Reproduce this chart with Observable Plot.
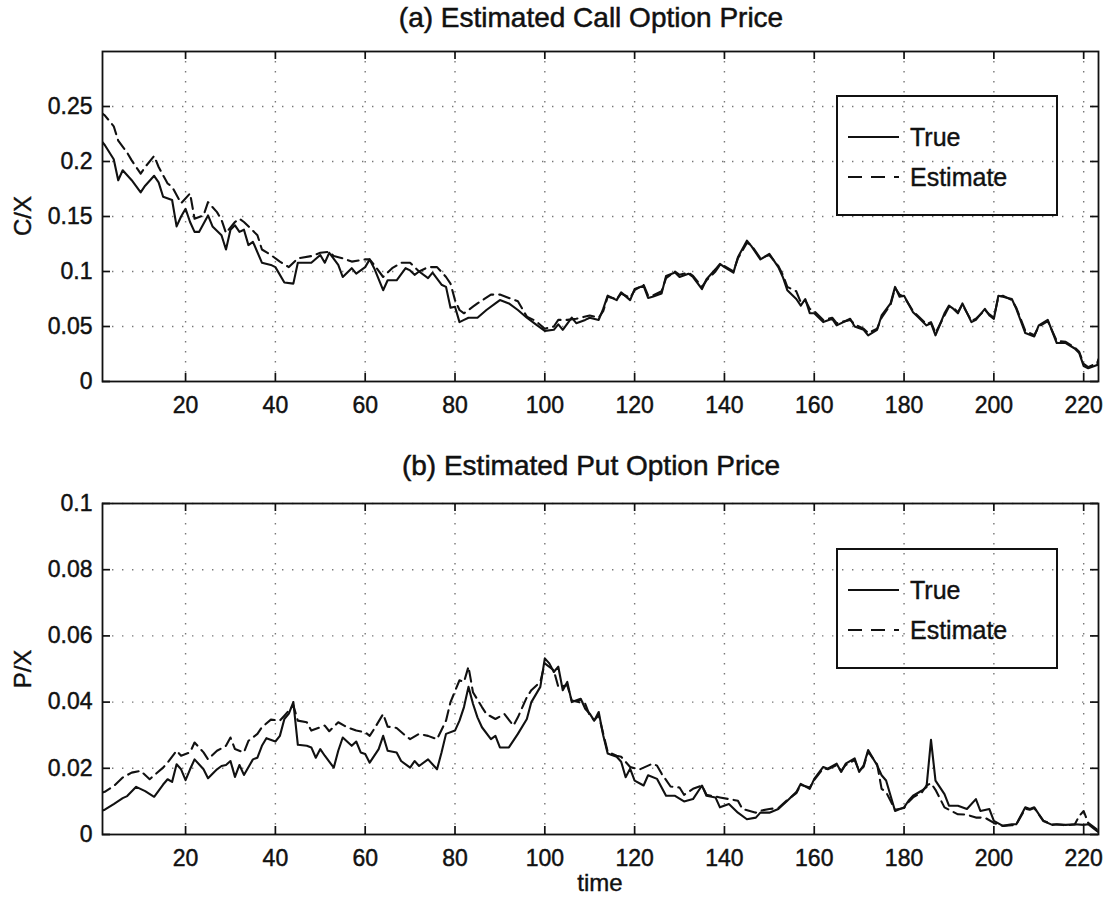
<!DOCTYPE html>
<html><head><meta charset="utf-8">
<script src="https://cdn.jsdelivr.net/npm/d3@7"></script>
<script src="https://cdn.jsdelivr.net/npm/@observablehq/plot@0.6"></script>
<style>
body{margin:0;background:#fff;font-family:"Liberation Sans",Arial,Helvetica,sans-serif;color:#111;}
#wrap{position:relative;width:1108px;height:897px;overflow:hidden;}
.title{position:absolute;left:84px;width:1014px;text-align:center;font-size:28px;line-height:30px;-webkit-text-stroke:0.5px #111;}
.ylab{position:absolute;width:80px;text-align:center;font-size:24px;line-height:26px;transform:rotate(-90deg);-webkit-text-stroke:0.4px #111;}
.xlab{position:absolute;left:102px;width:996px;text-align:center;font-size:24px;line-height:26px;-webkit-text-stroke:0.4px #111;}
.panel{position:absolute;left:0;}
.panel text{stroke:#111;stroke-width:0.45px;}
.legend{position:absolute;box-sizing:border-box;border:2px solid #111;background:transparent;}
.legend .row{position:absolute;left:8px;height:30px;}
.legend svg{position:absolute;left:0;top:0;}
.legend span{position:absolute;left:64px;top:0;font-size:25px;line-height:30px;white-space:nowrap;-webkit-text-stroke:0.4px #111;}
</style></head>
<body><div id="wrap"></div>
<script>
// ---- data ----
const xTicks = [20, 40, 60, 80, 100, 120, 140, 160, 180, 200, 220];
const callYTicks = [0, 0.05, 0.1, 0.15, 0.2, 0.25];
const putYTicks = [0, 0.02, 0.04, 0.06, 0.08, 0.1];
const seriesNames = ["True", "Estimate"];
const titles = ["(a) Estimated Call Option Price", "(b) Estimated Put Option Price"];

const callTrue = [[1,0.220],[2,0.215],[4,0.202],[5,0.183],[6,0.192],[8,0.183],[10,0.172],[11,0.178],[13,0.187],[14,0.181],[15,0.168],[17,0.165],[18,0.141],[19,0.150],[20,0.157],[21,0.145],[22,0.136],[23,0.136],[25,0.151],[26,0.141],[28,0.133],[29,0.120],[30,0.138],[31,0.142],[32,0.136],[33,0.138],[34,0.124],[35,0.127],[37,0.108],[39,0.106],[40,0.104],[42,0.090],[44,0.089],[45,0.108],[48,0.108],[50,0.115],[51,0.108],[52,0.117],[54,0.106],[55,0.095],[57,0.103],[58,0.098],[60,0.104],[61,0.111],[62,0.103],[64,0.083],[65,0.092],[67,0.092],[69,0.103],[70,0.101],[71,0.097],[72,0.100],[74,0.094],[75,0.099],[77,0.088],[78,0.086],[79,0.067],[80,0.068],[81,0.054],[82,0.056],[83,0.058],[85,0.058],[87,0.065],[89,0.071],[90,0.074],[92,0.071],[94,0.065],[96,0.058],[98,0.052],[100,0.046],[102,0.047],[103,0.052],[104,0.047],[106,0.058],[107,0.053],[109,0.056],[110,0.058],[112,0.056],[113,0.066],[114,0.078],[116,0.074],[117,0.081],[119,0.074],[120,0.084],[122,0.087],[123,0.076],[124,0.077],[126,0.080],[127,0.096],[129,0.099],[130,0.095],[132,0.098],[133,0.095],[135,0.084],[136,0.093],[138,0.102],[139,0.107],[140,0.104],[142,0.099],[143,0.113],[145,0.128],[146,0.123],[148,0.111],[150,0.116],[152,0.104],[153,0.095],[154,0.083],[156,0.075],[157,0.069],[158,0.075],[159,0.062],[160,0.062],[162,0.054],[164,0.057],[165,0.051],[168,0.057],[169,0.050],[171,0.047],[172,0.042],[174,0.047],[175,0.060],[177,0.071],[178,0.086],[179,0.077],[180,0.078],[182,0.063],[183,0.059],[185,0.051],[186,0.053],[187,0.042],[189,0.062],[190,0.069],[191,0.066],[192,0.062],[193,0.071],[195,0.054],[196,0.056],[198,0.066],[199,0.060],[200,0.057],[201,0.078],[202,0.077],[204,0.075],[205,0.066],[207,0.044],[209,0.041],[210,0.051],[212,0.056],[214,0.035],[216,0.035],[218,0.030],[219,0.026],[220,0.014],[221,0.012],[223,0.015],[224,0.029]];

const callEst = [[1,0.245],[2,0.242],[4,0.232],[5,0.219],[7,0.208],[8,0.201],[10,0.189],[11,0.195],[13,0.205],[14,0.195],[16,0.180],[17,0.177],[19,0.162],[21,0.171],[22,0.148],[24,0.151],[25,0.163],[27,0.154],[28,0.147],[29,0.135],[31,0.145],[32,0.148],[33,0.145],[36,0.133],[37,0.120],[39,0.115],[41,0.109],[43,0.104],[45,0.112],[48,0.114],[50,0.117],[52,0.118],[53,0.114],[55,0.112],[57,0.109],[60,0.111],[61,0.111],[62,0.106],[64,0.095],[66,0.103],[68,0.108],[70,0.108],[72,0.100],[74,0.104],[76,0.104],[78,0.095],[79,0.089],[80,0.074],[81,0.065],[82,0.062],[84,0.068],[85,0.071],[88,0.079],[90,0.079],[92,0.076],[94,0.073],[96,0.059],[98,0.055],[100,0.048],[102,0.050],[103,0.056],[105,0.056],[107,0.057],[110,0.060],[112,0.058],[113,0.064],[114,0.077],[116,0.075],[117,0.080],[119,0.076],[120,0.083],[122,0.088],[123,0.078],[124,0.078],[126,0.082],[127,0.094],[129,0.100],[130,0.097],[132,0.099],[133,0.096],[135,0.086],[136,0.092],[138,0.100],[139,0.106],[140,0.105],[142,0.100],[143,0.112],[145,0.126],[146,0.124],[148,0.112],[150,0.115],[152,0.105],[153,0.097],[154,0.086],[156,0.082],[157,0.072],[158,0.074],[159,0.066],[160,0.064],[162,0.056],[164,0.058],[165,0.053],[168,0.056],[169,0.052],[171,0.048],[172,0.044],[174,0.048],[175,0.058],[177,0.070],[178,0.085],[179,0.079],[180,0.077],[182,0.064],[183,0.060],[185,0.052],[186,0.054],[187,0.044],[189,0.060],[190,0.068],[191,0.067],[192,0.063],[193,0.070],[195,0.055],[196,0.057],[198,0.065],[199,0.061],[200,0.058],[201,0.077],[202,0.078],[204,0.074],[205,0.067],[207,0.046],[209,0.042],[210,0.050],[212,0.055],[214,0.037],[216,0.036],[218,0.031],[219,0.027],[220,0.016],[221,0.013],[223,0.017],[224,0.027]];

const putTrue = [[1,0.0070],[2,0.0075],[4,0.0092],[6,0.0110],[7,0.0116],[9,0.0144],[11,0.0131],[13,0.0114],[15,0.0151],[16,0.0167],[17,0.0159],[18,0.0212],[19,0.0197],[20,0.0164],[21,0.0197],[22,0.0227],[24,0.0197],[25,0.0170],[27,0.0197],[28,0.0207],[29,0.0210],[30,0.0222],[31,0.0174],[32,0.0210],[33,0.0180],[35,0.0227],[36,0.0232],[37,0.0268],[38,0.0291],[40,0.0281],[41,0.0298],[42,0.0349],[43,0.0365],[44,0.0400],[45,0.0271],[47,0.0268],[48,0.0263],[49,0.0232],[50,0.0258],[51,0.0238],[53,0.0202],[54,0.0253],[55,0.0293],[57,0.0268],[58,0.0281],[59,0.0248],[60,0.0243],[61,0.0217],[63,0.0258],[64,0.0298],[65,0.0253],[67,0.0248],[68,0.0222],[70,0.0202],[71,0.0222],[72,0.0207],[74,0.0227],[76,0.0197],[77,0.0248],[78,0.0304],[80,0.0314],[81,0.0344],[82,0.0385],[83,0.0446],[84,0.0395],[85,0.0354],[86,0.0324],[88,0.0288],[89,0.0298],[90,0.0263],[92,0.0263],[94,0.0304],[96,0.0349],[97,0.0400],[99,0.0446],[100,0.0532],[101,0.0517],[102,0.0491],[103,0.0507],[104,0.0436],[105,0.0461],[106,0.0400],[108,0.0410],[109,0.0380],[110,0.0365],[111,0.0344],[112,0.0370],[113,0.0300],[114,0.0245],[116,0.0235],[117,0.0220],[118,0.0173],[119,0.0199],[120,0.0163],[122,0.0148],[123,0.0179],[125,0.0168],[127,0.0117],[129,0.0117],[131,0.0100],[133,0.0107],[135,0.0148],[136,0.0117],[138,0.0112],[139,0.0082],[141,0.0092],[143,0.0066],[145,0.0046],[147,0.0051],[148,0.0066],[150,0.0066],[152,0.0077],[154,0.0102],[156,0.0128],[157,0.0153],[159,0.0138],[160,0.0168],[162,0.0204],[163,0.0199],[165,0.0214],[166,0.0189],[167,0.0214],[169,0.0230],[170,0.0189],[171,0.0209],[172,0.0255],[174,0.0209],[175,0.0179],[176,0.0163],[178,0.0071],[180,0.0082],[181,0.0102],[182,0.0117],[184,0.0133],[185,0.0143],[186,0.0286],[187,0.0163],[189,0.0122],[190,0.0087],[192,0.0087],[194,0.0077],[196,0.0107],[197,0.0071],[199,0.0077],[200,0.0041],[202,0.0026],[204,0.0031],[205,0.0031],[207,0.0082],[208,0.0077],[209,0.0082],[211,0.0041],[213,0.0029],[214,0.0031],[216,0.0029],[218,0.0031],[220,0.0029],[221,0.0031],[223,0.0010],[224,0.0000]];

const putEst = [[1,0.0125],[2,0.0129],[4,0.0146],[6,0.0172],[8,0.0187],[10,0.0192],[12,0.0167],[15,0.0202],[16,0.0217],[18,0.0253],[19,0.0238],[21,0.0248],[22,0.0278],[24,0.0248],[25,0.0227],[27,0.0253],[29,0.0268],[30,0.0293],[31,0.0258],[33,0.0248],[34,0.0283],[36,0.0304],[37,0.0324],[39,0.0347],[41,0.0344],[42,0.0359],[44,0.0390],[45,0.0344],[47,0.0339],[48,0.0314],[51,0.0329],[52,0.0312],[54,0.0339],[56,0.0324],[58,0.0314],[60,0.0309],[61,0.0298],[62,0.0319],[64,0.0364],[65,0.0326],[67,0.0322],[69,0.0298],[70,0.0288],[72,0.0304],[74,0.0298],[76,0.0288],[78,0.0344],[79,0.0400],[81,0.0466],[82,0.0461],[83,0.0507],[84,0.0430],[86,0.0385],[87,0.0364],[89,0.0349],[91,0.0364],[93,0.0329],[94,0.0354],[96,0.0415],[97,0.0436],[99,0.0461],[100,0.0517],[102,0.0496],[103,0.0446],[105,0.0451],[106,0.0405],[109,0.0395],[110,0.0360],[111,0.0345],[112,0.0360],[113,0.0305],[114,0.0250],[116,0.0238],[117,0.0235],[119,0.0204],[121,0.0196],[124,0.0214],[125,0.0208],[126,0.0184],[128,0.0145],[130,0.0142],[131,0.0120],[133,0.0138],[135,0.0148],[136,0.0120],[139,0.0112],[143,0.0102],[144,0.0077],[147,0.0066],[148,0.0072],[150,0.0077],[152,0.0080],[154,0.0104],[156,0.0125],[157,0.0150],[159,0.0142],[160,0.0165],[162,0.0200],[163,0.0197],[165,0.0210],[166,0.0192],[167,0.0210],[169,0.0225],[170,0.0192],[171,0.0205],[172,0.0250],[174,0.0212],[175,0.0138],[176,0.0128],[178,0.0075],[180,0.0080],[181,0.0098],[182,0.0112],[184,0.0128],[185,0.0148],[186,0.0155],[187,0.0135],[189,0.0082],[190,0.0075],[192,0.0061],[194,0.0060],[196,0.0051],[198,0.0051],[200,0.0035],[202,0.0026],[204,0.0028],[205,0.0030],[207,0.0078],[208,0.0075],[209,0.0080],[211,0.0042],[213,0.0030],[214,0.0030],[216,0.0028],[218,0.0030],[219,0.0056],[220,0.0071],[221,0.0035],[223,0.0015],[224,0.0005]];

// ---- drawing ----
const wrap = document.getElementById("wrap");
const FONT = '"Liberation Sans", Arial, Helvetica, sans-serif';
const DASH = "11,6";
const GRID = {stroke: "#555", strokeWidth: 1.4, strokeDasharray: "1.4,8.6", strokeOpacity: 0.8};
const toRows = arr => arr.map(([t, v]) => ({t, v}));

function panel({top, height, mt, mb, yDomain, yTicks, trueData, estData}) {
  const fh = height - mt - mb;
  const fw = 1108 - 102 - 10;
  const svg = Plot.plot({
    width: 1108, height,
    marginLeft: 102, marginRight: 10, marginTop: mt, marginBottom: mb,
    style: {fontFamily: FONT, fontSize: "23px", color: "#111", background: "transparent"},
    x: {domain: [1.5, 223.3], label: null},
    y: {domain: yDomain, label: null},
    marks: [
      Plot.ruleX(xTicks, GRID),
      Plot.ruleY(yTicks.filter(d => d > 0), GRID),
      Plot.line(toRows(trueData), {x: "t", y: "v", stroke: "#111", strokeWidth: 2.1, clip: true}),
      Plot.line(toRows(estData), {x: "t", y: "v", stroke: "#111", strokeWidth: 2.1, strokeDasharray: DASH, clip: true}),
      Plot.ruleX(xTicks, {stroke: "#111", strokeWidth: 1.7, insetTop: fh - 8}),
      Plot.ruleX(xTicks, {stroke: "#111", strokeWidth: 1.7, insetBottom: fh - 8}),
      Plot.ruleY(yTicks, {stroke: "#111", strokeWidth: 1.7, insetRight: fw - 8}),
      Plot.ruleY(yTicks, {stroke: "#111", strokeWidth: 1.7, insetLeft: fw - 8}),
      Plot.axisX({ticks: xTicks, tickSize: 0, tickPadding: 15, tickFormat: d => String(d), fontSize: 23, label: null}),
      Plot.axisY({ticks: yTicks, tickSize: 0, tickPadding: 10, tickFormat: d => String(d), fontSize: 23, label: null}),
      Plot.frame({stroke: "#111", strokeWidth: 1.8})
    ]
  });
  svg.classList.add("panel");
  svg.style.top = top + "px";
  wrap.appendChild(svg);
}

function addDiv(cls, text, css) {
  const d = document.createElement("div");
  d.className = cls;
  if (text) d.textContent = text;
  Object.assign(d.style, css);
  wrap.appendChild(d);
  return d;
}

function legend(top) {
  const box = addDiv("legend", null, {left: "836px", top: top + "px", width: "222px", height: "121px"});
  seriesNames.forEach((name, i) => {
    const row = document.createElement("div");
    row.className = "row";
    row.style.top = (i === 0 ? 25 : 65) + "px";
    row.style.width = "210px";
    const dash = i === 0 ? "" : ' stroke-dasharray="14,9"';
    row.innerHTML = `<svg width="56" height="30"><line x1="2" x2="53" y1="15" y2="15" stroke="#111" stroke-width="2.2"${dash}/></svg><span>${name}</span>`;
    box.appendChild(row);
  });
}

panel({top: 36, height: 385, mt: 15, mb: 40, yDomain: [0, 0.3], yTicks: callYTicks, trueData: callTrue, estData: callEst});
panel({top: 485, height: 385, mt: 18, mb: 36, yDomain: [0, 0.1], yTicks: putYTicks, trueData: putTrue, estData: putEst});

addDiv("title", titles[0], {top: "3px"});
addDiv("title", titles[1], {top: "451px"});
addDiv("ylab", "C/X", {left: "-17px", top: "203px"});
addDiv("ylab", "P/X", {left: "-17px", top: "656px"});
addDiv("xlab", "time", {top: "870px"});
legend(95);
legend(548);
</script>
</body></html>
